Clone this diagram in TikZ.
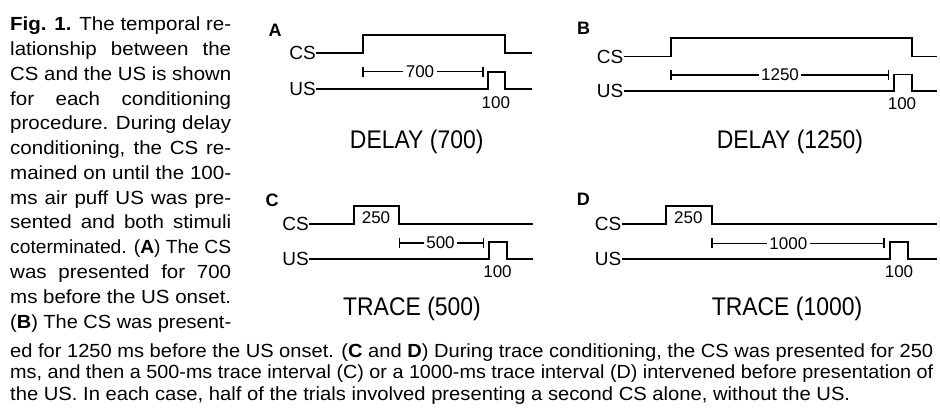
\documentclass[tikz,border=0pt]{standalone}
\usepackage{fontspec}
\setmainfont{Liberation Sans}
\newfontfamily\capfont[FakeStretch=1.08]{Liberation Sans}
\usepackage{graphicx}
\newsavebox\lbox
\newcommand\jline[2]{\sbox\lbox{#2}\ifdim\wd\lbox>#1\relax\resizebox{#1}{\height}{\usebox\lbox}\else\makebox[#1][s]{#2}\fi}
\newcommand\narrow[1]{\scalebox{0.9}[1]{#1}}
\begin{document}
\begin{tikzpicture}[x=1pt,y=-1pt,
  wave/.style={line width=1.8pt},
  bar/.style={line width=1.6pt},
  sig/.style={anchor=east, inner sep=0pt, font=\fontsize{19}{22}\selectfont},
  num/.style={inner sep=0pt, font=\fontsize{17}{20}\selectfont},
  numw/.style={num, fill=white, inner xsep=2.5pt},
  ttl/.style={anchor=base, inner sep=0pt, font=\fontsize{25.5}{30}\selectfont},
  panel/.style={inner sep=0pt, font=\fontsize{18}{21}\selectfont\bfseries},
  capline/.style={anchor=base west, inner sep=0pt, font=\fontsize{19}{23}\capfont}]
\useasboundingbox[fill=white] (0,0) rectangle (940,412);

% ---------- caption, left column ----------
\node[capline] (l1)  at (10,30.7)  {\jline{221pt}{\textbf{Fig. 1.} The temporal re-}};
\node[capline] (l2)  at (10,55.5)  {\jline{221pt}{lationship between the}};
\node[capline] (l3)  at (10,80.3)  {\jline{221pt}{CS and the US is shown}};
\node[capline] (l4)  at (10,105.0) {\jline{221pt}{for each conditioning}};
\node[capline] (l5)  at (10,129.8) {\jline{221pt}{procedure. During delay}};
\node[capline] (l6)  at (10,154.6) {\jline{221pt}{conditioning, the CS re-}};
\node[capline] (l7)  at (10,179.4) {\jline{221pt}{mained on until the 100-}};
\node[capline] (l8)  at (10,204.1) {\jline{221pt}{ms air puff US was pre-}};
\node[capline] (l9)  at (10,228.9) {\jline{221pt}{sented and both stimuli}};
\node[capline] (l10) at (10,253.7) {\jline{221pt}{coterminated. (\textbf{A}) The CS}};
\node[capline] (l11) at (10,278.5) {\jline{221pt}{was presented for 700}};
\node[capline] (l12) at (10,303.2) {\jline{221pt}{ms before the US onset.}};
\node[capline] (l13) at (10,328.0) {\jline{221pt}{(\textbf{B}) The CS was present-}};
% ---------- caption, full width ----------
\node[capline] (l14) at (10,357.0) {\jline{923pt}{ed for 1250 ms before the US onset. (\textbf{C} and \textbf{D}) During trace conditioning, the CS was presented for 250}};
\node[capline] (l15) at (10,378.5) {\jline{923pt}{ms, and then a 500-ms trace interval (C) or a 1000-ms trace interval (D) intervened before presentation of}};
\node[capline] (l16) at (10,400.0) {\resizebox{840pt}{\height}{the US. In each case, half of the trials involved presenting a second CS alone, without the US.}};

% ---------- Panel A ----------
\node[panel] (pA) at (275,30.5) {A};
\node[sig] (csA) at (316,53) {CS};
\node[sig] (usA) at (316,89.3) {US};
\draw[wave] (csA.east) -- (362.7,53) -- (362.7,35) -- (505,35) -- (505,53) -- (531.7,53);
\draw[wave] (usA.east) -- (488.3,89.3) -- (488.3,71.7) -- (505,71.7) -- (505,89.3) -- (531.7,89.3);
\draw[bar] (362.7,71.7) -- (482.7,71.7);
\draw[bar] (362.7,66.7) -- (362.7,76.7);
\draw[bar] (482.7,66.7) -- (482.7,76.7);
\node[numw] (tA) at (420,71.7) {700};
\node[num] (dA) at (495.8,102.5) {100};
\node[ttl] (nA) at (416.7,148.3) {\narrow{DELAY (700)}};

% ---------- Panel B ----------
\node[panel] (pB) at (583.7,28.8) {B};
\node[sig] (csB) at (623.5,56.5) {CS};
\node[sig] (usB) at (623.5,90.7) {US};
\draw[wave] (csB.east) -- (670.7,56.5) -- (670.7,38.3) -- (911.7,38.3) -- (911.7,56.5) -- (936.7,56.5);
\draw[wave] (usB.east) -- (894,90.7) -- (894,74.5) -- (911.7,74.5) -- (911.7,90.7) -- (936.7,90.7);
\draw[bar] (670.7,75) -- (888.3,75);
\draw[bar] (670.7,70) -- (670.7,80);
\draw[bar] (888.3,70) -- (888.3,80);
\node[numw] (tB) at (780,75) {1250};
\node[num] (dB) at (902,103.3) {100};
\node[ttl] (nB) at (790,148.3) {\narrow{DELAY (1250)}};

% ---------- Panel C ----------
\node[panel] (pC) at (272,200.8) {C};
\node[sig] (csC) at (309,224) {CS};
\node[sig] (usC) at (309,259.3) {US};
\draw[wave] (csC.east) -- (354.3,224) -- (354.3,206) -- (399.3,206) -- (399.3,224) -- (533.3,224);
\draw[wave] (usC.east) -- (489.3,259.3) -- (489.3,241.7) -- (507.3,241.7) -- (507.3,259.3) -- (533.3,259.3);
\draw[bar] (399.3,242.7) -- (483.3,242.7);
\draw[bar] (399.3,237.7) -- (399.3,247.7);
\draw[bar] (483.3,237.7) -- (483.3,247.7);
\node[num] (wC) at (376,218) {250};
\node[numw] (tC) at (440.5,242.7) {500};
\node[num] (dC) at (497.5,271.7) {100};
\node[ttl] (nC) at (412,315.6) {\narrow{TRACE (500)}};

% ---------- Panel D ----------
\node[panel] (pD) at (583.3,199) {D};
\node[sig] (csD) at (621.5,224) {CS};
\node[sig] (usD) at (621.5,259.3) {US};
\draw[wave] (csD.east) -- (666,224) -- (666,206) -- (712,206) -- (712,224) -- (936.7,224);
\draw[wave] (usD.east) -- (890,259.3) -- (890,241.7) -- (908.3,241.7) -- (908.3,259.3) -- (936.7,259.3);
\draw[bar] (712,243.3) -- (884,243.3);
\draw[bar] (712,238.3) -- (712,248.3);
\draw[bar] (884,238.3) -- (884,248.3);
\node[num] (wD) at (688.3,218) {250};
\node[numw] (tD) at (788.3,243.3) {1000};
\node[num] (dD) at (899,271.7) {100};
\node[ttl] (nD) at (787,315.6) {\narrow{TRACE (1000)}};
\end{tikzpicture}
\end{document}
